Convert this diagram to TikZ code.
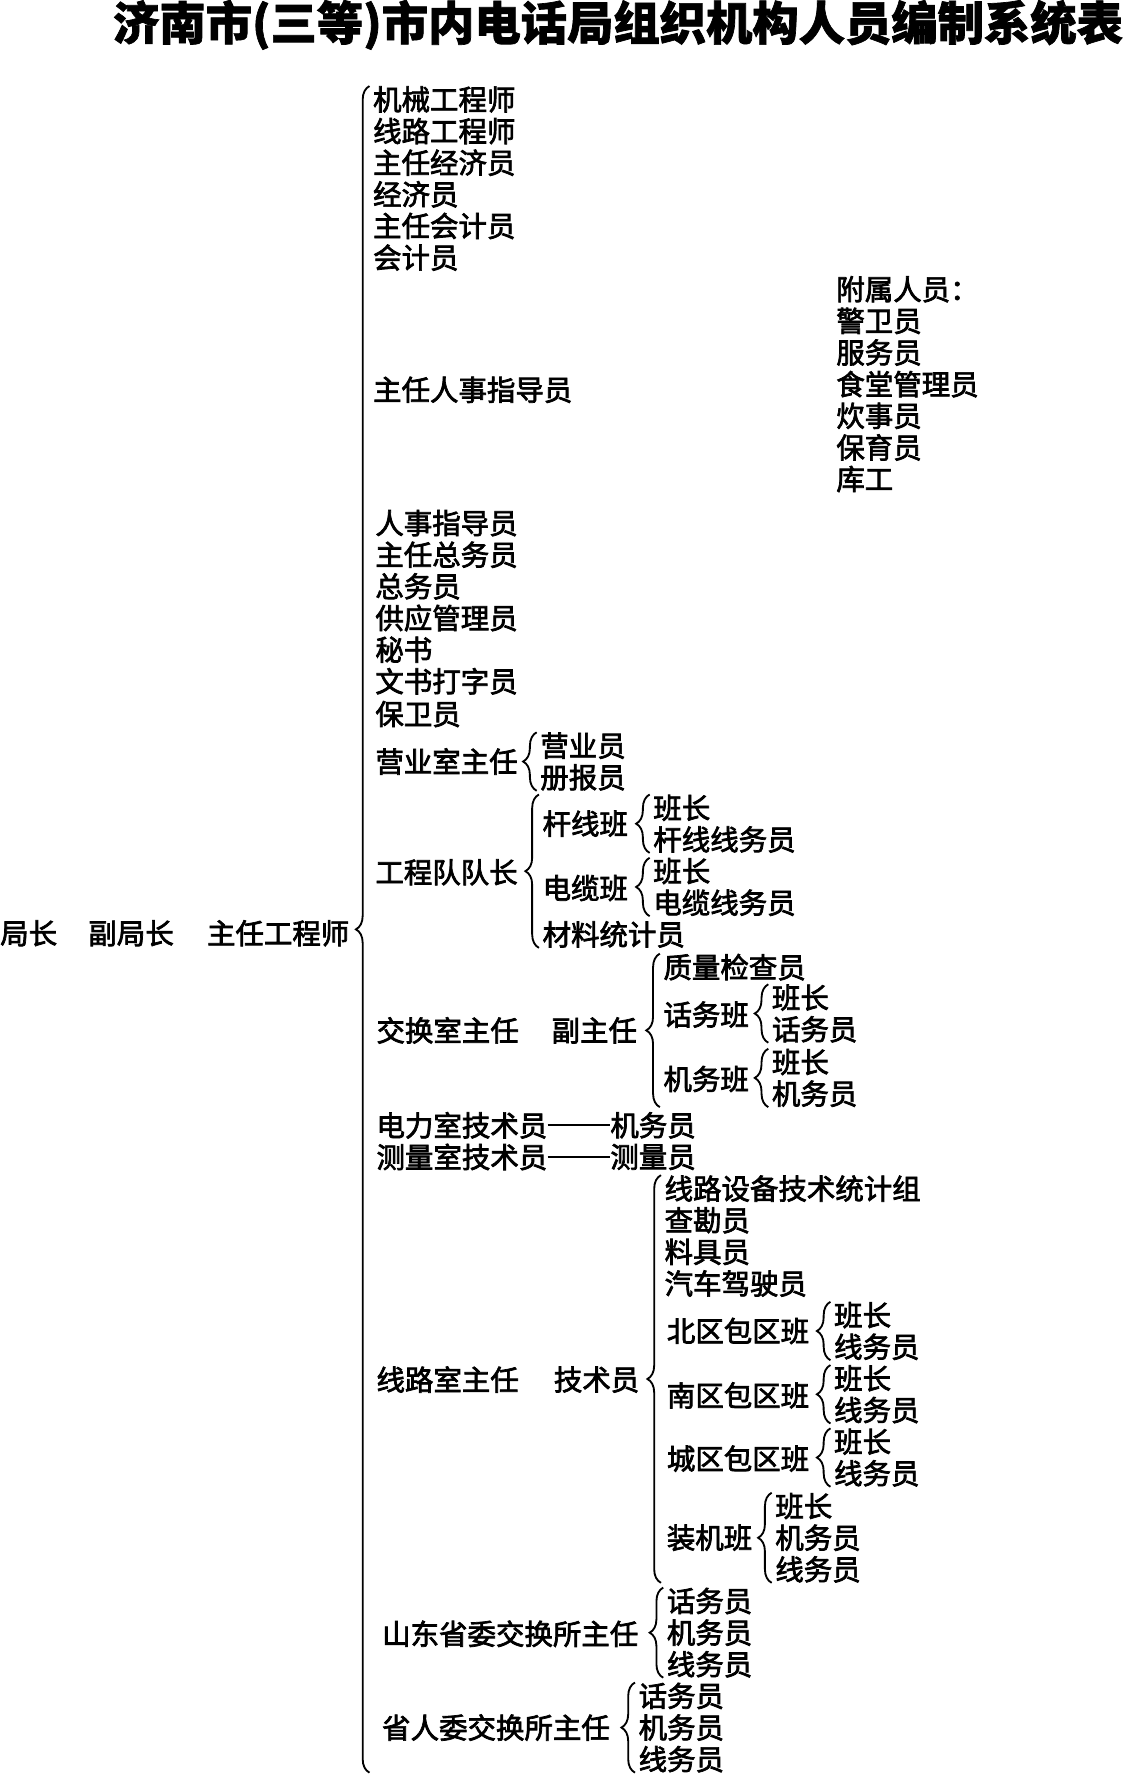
\documentclass[tikz,border=0pt]{standalone}
\usepackage{fontspec}
\newfontfamily\cjk{Noto Sans CJK SC}[FakeBold=2.5]
\newfontfamily\cjkt{Noto Sans CJK SC}[FakeBold=1.5]
\usetikzlibrary{decorations.pathreplacing,calc}

\begin{document}
\begin{tikzpicture}[x=0.3mm,y=-0.3mm,
  every node/.style={anchor=west,inner sep=0pt,font=\cjk\fontsize{21.5}{26}\selectfont},
  brc/.style={decorate,decoration={brace,amplitude=3.6mm},line width=1.4pt},
  dsh/.style={line width=1.3pt}]
\useasboundingbox (0,0) rectangle (1000,1571);

\node[anchor=center,font=\cjkt\bfseries\fontsize{35}{40}\selectfont] (title) at (547,22) {济南市(三等)市内电话局组织机构人员编制系统表};

\node (jz) at (0,826) {局长};
\node (fjz) at (78,826) {副局长};
\node (zg) at (183,826) {主任工程师};

\node (jx) at (330,88) {机械工程师};
\node (xlg) at (330,116) {线路工程师};
\node (zjj) at (330,144) {主任经济员};
\node (jj) at (330,172) {经济员};
\node (zkj) at (330,200) {主任会计员};
\node (kj) at (330,228) {会计员};
\node (zrs) at (330,345) {主任人事指导员};
\node (rs) at (332,463) {人事指导员};
\node (zzw) at (332,491) {主任总务员};
\node (zw) at (332,519) {总务员};
\node (gy) at (332,547) {供应管理员};
\node (ms) at (332,575) {秘书};
\node (ws) at (332,603) {文书打字员};
\node (bw) at (332,632) {保卫员};

\node (fs) at (740,256) {附属人员：};
\node (jw) at (740,284) {警卫员};
\node (fw) at (740,312) {服务员};
\node (st) at (740,340) {食堂管理员};
\node (cs) at (740,368) {炊事员};
\node (by) at (740,396) {保育员};
\node (kg) at (740,424) {库工};

\node (yys) at (332,674) {营业室主任};
\node (yy1) at (478,660) {营业员};
\node (yy2) at (478,688) {册报员};
\draw[brc] ($(yy2.south west)+(-3,0)$) -- ($(yy1.north west)+(-3,0)$);

\node (gcd) at (332,772) {工程队队长};
\node (gx) at (480,729) {杆线班};
\node (gx1) at (578,715) {班长};
\node (gx2) at (578,743) {杆线线务员};
\node (dl) at (480,786) {电缆班};
\node (dl1) at (578,771) {班长};
\node (dl2) at (578,799) {电缆线务员};
\node (cl) at (480,827) {材料统计员};
\draw[brc] ($(gx2.south west)+(-3,0)$) -- ($(gx1.north west)+(-3,0)$);
\draw[brc] ($(dl2.south west)+(-3,0)$) -- ($(dl1.north west)+(-3,0)$);
\draw[brc] ($(cl.south west)+(-3,0)$) -- ($(cl.west |- gx1.north)+(-3,0)$);

\node (jhs) at (333,912) {交换室主任};
\node (fzr) at (488,912) {副主任};
\node (zl) at (587,856) {质量检查员};
\node (hw) at (587,898) {话务班};
\node (hw1) at (683,883) {班长};
\node (hw2) at (683,911) {话务员};
\node (jwb) at (587,955) {机务班};
\node (jwb1) at (683,940) {班长};
\node (jwb2) at (683,968) {机务员};
\draw[brc] ($(hw2.south west)+(-3,0)$) -- ($(hw1.north west)+(-3,0)$);
\draw[brc] ($(jwb2.south west)+(-3,0)$) -- ($(jwb1.north west)+(-3,0)$);
\draw[brc] ($(zl.west |- jwb2.south)+(-3,0)$) -- ($(zl.north west)+(-3,0)$);

\node (dlj) at (333,996) {电力室技术员};
\node (dlw) at (540,996) {机务员};
\draw[dsh] (dlj.east) -- (dlw.west);
\node (clj) at (333,1024) {测量室技术员};
\node (clw) at (540,1024) {测量员};
\draw[dsh] (clj.east) -- (clw.west);

\node (xls) at (333,1221) {线路室主任};
\node (jsy) at (490,1221) {技术员};
\node (sb) at (588,1052) {线路设备技术统计组};
\node (kc) at (588,1080) {查勘员};
\node (lj) at (588,1108) {料具员};
\node (qc) at (588,1136) {汽车驾驶员};
\node (bq) at (590,1178) {北区包区班};
\node (bq1) at (738,1164) {班长};
\node (bq2) at (738,1192) {线务员};
\node (nq) at (590,1235) {南区包区班};
\node (nq1) at (738,1220) {班长};
\node (nq2) at (738,1248) {线务员};
\node (cq) at (590,1291) {城区包区班};
\node (cq1) at (738,1276) {班长};
\node (cq2) at (738,1304) {线务员};
\node (zj) at (590,1361) {装机班};
\node (zj1) at (686,1333) {班长};
\node (zj2) at (686,1361) {机务员};
\node (zj3) at (686,1389) {线务员};
\draw[brc] ($(bq2.south west)+(-3,0)$) -- ($(bq1.north west)+(-3,0)$);
\draw[brc] ($(nq2.south west)+(-3,0)$) -- ($(nq1.north west)+(-3,0)$);
\draw[brc] ($(cq2.south west)+(-3,0)$) -- ($(cq1.north west)+(-3,0)$);
\draw[brc] ($(zj3.south west)+(-3,0)$) -- ($(zj1.north west)+(-3,0)$);
\draw[brc] ($(sb.west |- zj3.south)+(-3,0)$) -- ($(sb.north west)+(-3,0)$);

\node (sd) at (338,1446) {山东省委交换所主任};
\node (sd1) at (590,1417) {话务员};
\node (sd2) at (590,1445) {机务员};
\node (sd3) at (590,1473) {线务员};
\draw[brc] ($(sd3.south west)+(-3,0)$) -- ($(sd1.north west)+(-3,0)$);

\node (sr) at (338,1529) {省人委交换所主任};
\node (sr1) at (565,1501) {话务员};
\node (sr2) at (565,1529) {机务员};
\node (sr3) at (565,1557) {线务员};
\draw[brc] ($(sr3.south west)+(-3,0)$) -- ($(sr1.north west)+(-3,0)$);

% main brace
\draw[brc] ($(jx.west |- sr3.south)+(-3,0)$) -- ($(jx.north west)+(-3,0)$);

\end{tikzpicture}
\end{document}
